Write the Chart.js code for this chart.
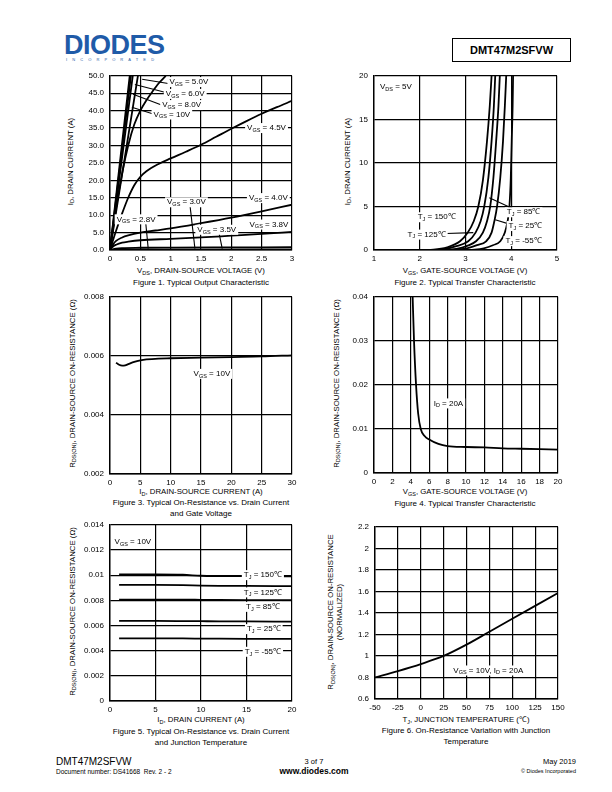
<!DOCTYPE html>
<html lang="en">
<head>
<meta charset="UTF-8" />
<title>DMT47M2SFVW - Typical Characteristics</title>
<script src="https://cdn.jsdelivr.net/npm/chart.js@4"></script>
<style>
  body {
    margin: 0;
    width: 612px;
    height: 792px;
    position: relative;
    overflow: hidden;
    background: #fff;
    color: #000;
    font-family: "Liberation Sans", Arial, sans-serif;
  }
  canvas { position: absolute; }
  .t { position: absolute; white-space: nowrap; text-align: center; }
  .axt { font-size: 7.8px; width: 300px; line-height: 9px; }
  .cap { font-size: 8px; width: 300px; line-height: 11px; }
  .rot { transform: rotate(-90deg); }
  sub { font-size: 5.5px; vertical-align: -1.5px; line-height: 0; }
  .logo {
    position: absolute; left: 64px; top: 30px;
    font-size: 27px; font-weight: bold; color: #1f5ba8; letter-spacing: -0.5px;
  }
  .inc {
    position: absolute; left: 66px; top: 57px;
    font-size: 4px; letter-spacing: 5.1px; color: #1f5ba8;
  }
  .pn {
    position: absolute; left: 452px; top: 38px; width: 117px; height: 22px;
    border: 1.2px solid #000; font-weight: bold; font-size: 11px;
    line-height: 22px; text-align: center;
  }
</style>
</head>
<body>
<div class="logo">DIODES</div>
<div class="inc">INCORPORATED</div>
<div class="pn">DMT47M2SFVW</div>

<!-- axis titles & captions -->
<div class="t axt" style="left:51px;top:266px">V<sub>DS</sub>, DRAIN-SOURCE VOLTAGE (V)</div>
<div class="t cap" style="left:51px;top:277px">Figure 1. Typical Output Characteristic</div>
<div class="t axt rot" style="left:-80px;top:157px">I<sub>D</sub>, DRAIN CURRENT (A)</div>

<div class="t axt" style="left:315px;top:266px">V<sub>GS</sub>, GATE-SOURCE VOLTAGE (V)</div>
<div class="t cap" style="left:315px;top:277px">Figure 2. Typical Transfer Characteristic</div>
<div class="t axt rot" style="left:197px;top:157px">I<sub>D</sub>, DRAIN CURRENT (A)</div>

<div class="t axt" style="left:51px;top:487px">I<sub>D</sub>, DRAIN-SOURCE CURRENT (A)</div>
<div class="t cap" style="left:51px;top:497px">Figure 3. Typical On-Resistance vs. Drain Current<br>and Gate Voltage</div>
<div class="t axt rot" style="left:-78px;top:379px">R<sub>DS(ON)</sub>, DRAIN-SOURCE ON-RESISTANCE (Ω)</div>

<div class="t axt" style="left:315px;top:487px">V<sub>GS</sub>, GATE-SOURCE VOLTAGE (V)</div>
<div class="t cap" style="left:315px;top:498px">Figure 4. Typical Transfer Characteristic</div>
<div class="t axt rot" style="left:186px;top:379px">R<sub>DS(ON)</sub>, DRAIN-SOURCE ON-RESISTANCE (Ω)</div>

<div class="t axt" style="left:51px;top:715px">I<sub>D</sub>, DRAIN CURRENT (A)</div>
<div class="t cap" style="left:51px;top:726px">Figure 5. Typical On-Resistance vs. Drain Current<br>and Junction Temperature</div>
<div class="t axt rot" style="left:-78px;top:607px">R<sub>DS(ON)</sub>, DRAIN-SOURCE ON-RESISTANCE (Ω)</div>

<div class="t axt" style="left:316px;top:715px">T<sub>J</sub>, JUNCTION TEMPERATURE (℃)</div>
<div class="t cap" style="left:316px;top:725px">Figure 6. On-Resistance Variation with Junction<br>Temperature</div>
<div class="t axt rot" style="left:185px;top:603px">R<sub>DS(ON)</sub>, DRAIN-SOURCE ON-RESISTANCE<br>(NORMALIZED)</div>

<!-- footer -->
<div class="t" style="left:56px;top:756px;font-size:10px;text-align:left">DMT47M2SFVW</div>
<div class="t" style="left:56px;top:768px;font-size:6.5px;text-align:left">Document number: DS41668&nbsp; Rev. 2 - 2</div>
<div class="t" style="left:264px;top:757px;width:100px;font-size:7.5px">3 of 7</div>
<div class="t" style="left:264px;top:766px;width:100px;font-size:8.5px;font-weight:bold">www.diodes.com</div>
<div class="t" style="left:476px;top:757px;width:100px;font-size:7.5px;text-align:right">May 2019</div>
<div class="t" style="left:476px;top:768px;width:100px;font-size:5.5px;text-align:right">© Diodes Incorporated</div>

<script>
// ---------- Figure 1: output characteristic, [VDS, ID] ----------
const fig1XTicks = [0, 0.5, 1, 1.5, 2, 2.5, 3];
const fig1XLabels = ["0", "0.5", "1", "1.5", "2", "2.5", "3"];
const fig1YTicks = [0, 5, 10, 15, 20, 25, 30, 35, 40, 45, 50];
const fig1YLabels = ["0.0", "5.0", "10.0", "15.0", "20.0", "25.0", "30.0", "35.0", "40.0", "45.0", "50.0"];
const fig1Vgs10 = [[0, 0], [0.325, 50]];
const fig1Vgs8 = [[0, 0], [0.345, 50]];
const fig1Vgs6 = [[0, 0], [0.375, 50]];
const fig1Vgs5 = [[0, 0], [0.46, 50]];
const fig1Unlabeled = [[0, 0], [0.1, 12], [0.2, 22], [0.3, 30], [0.4, 36], [0.5, 40], [0.6, 43], [0.7, 45.5], [0.8, 47.8], [0.92, 50]];
const fig1Vgs45 = [[0, 0], [0.1, 5.5], [0.2, 10.5], [0.3, 15], [0.4, 18.6], [0.5, 21], [0.6, 22.6], [0.8, 24.7], [1, 26.3], [1.25, 28.2], [1.5, 30.2], [1.75, 32.5], [2, 34.8], [2.25, 37], [2.5, 39.1], [2.75, 41], [3, 42.8]];
const fig1Vgs40 = [[0, 0], [0.05, 1.6], [0.1, 2.6], [0.2, 3.6], [0.3, 4.2], [0.5, 5], [0.75, 5.6], [1, 6.2], [1.5, 7.7], [2, 9.3], [2.5, 11.1], [3, 13]];
const fig1Vgs38 = [[0, 0], [0.05, 1], [0.1, 1.5], [0.2, 2.1], [0.3, 2.4], [0.5, 2.8], [1, 3.2], [1.5, 3.6], [2, 4.1], [2.5, 4.6], [3, 5.2]];
const fig1Vgs35 = [[0, 0], [0.1, 0.4], [0.2, 0.55], [0.5, 0.65], [1, 0.7], [2, 0.75], [3, 0.8]];
const fig1Vgs30 = [[0, 0], [0.2, 0.1], [3, 0.15]];
const fig1Vgs28 = [[0, 0], [3, 0.05]];

// ---------- Figure 2: transfer characteristic, [VGS, ID] ----------
const fig2XTicks = [1, 2, 3, 4, 5];
const fig2XLabels = ["1", "2", "3", "4", "5"];
const fig2YTicks = [0, 5, 10, 15, 20];
const fig2YLabels = ["0", "5", "10", "15", "20"];
const fig2Tj150 = [[1.85, 0], [2.3, 0.05], [2.6, 0.3], [2.88, 1], [3.05, 2], [3.18, 3.3], [3.28, 5], [3.38, 8], [3.47, 12.5], [3.53, 16.5], [3.57, 20]];
const fig2Tj125 = [[2.1, 0], [2.5, 0.08], [2.8, 0.45], [3.06, 1], [3.22, 2], [3.33, 3.3], [3.41, 5], [3.5, 8.3], [3.57, 12.5], [3.62, 16.5], [3.65, 20]];
const fig2Tj85 = [[2.45, 0], [2.8, 0.12], [3.05, 0.5], [3.23, 1], [3.38, 2], [3.47, 3.3], [3.54, 5], [3.61, 8.3], [3.67, 12.5], [3.72, 16.5], [3.75, 20]];
const fig2Tj25 = [[2.65, 0], [3.0, 0.15], [3.25, 0.55], [3.45, 1], [3.57, 2], [3.63, 3.3], [3.69, 5], [3.76, 8.3], [3.82, 12.5], [3.86, 16.5], [3.89, 20]];
const fig2TjM55 = [[3.1, 0], [3.4, 0.2], [3.6, 0.55], [3.76, 1], [3.86, 2], [3.92, 3.3], [3.96, 5], [3.99, 8.3], [4.01, 12.5], [4.03, 16.5], [4.04, 20]];

// ---------- Figure 3: RDS(on) vs ID at VGS = 10V ----------
const fig3XTicks = [0, 5, 10, 15, 20, 25, 30];
const fig3XLabels = ["0", "5", "10", "15", "20", "25", "30"];
const fig3YTicks = [0.002, 0.004, 0.006, 0.008];
const fig3YLabels = ["0.002", "0.004", "0.006", "0.008"];
const fig3Id = [1, 1.5, 2, 2.5, 3, 4, 5, 6, 8, 10, 15, 20, 25, 30];
const fig3Rds = [0.00577, 0.0057, 0.00567, 0.00568, 0.00572, 0.0058, 0.00585, 0.00588, 0.00591, 0.00592, 0.00594, 0.00596, 0.00598, 0.00602];

// ---------- Figure 4: RDS(on) vs VGS at ID = 20A ----------
const fig4XTicks = [0, 2, 4, 6, 8, 10, 12, 14, 16, 18, 20];
const fig4XLabels = ["0", "2", "4", "6", "8", "10", "12", "14", "16", "18", "20"];
const fig4YTicks = [0, 0.01, 0.02, 0.03, 0.04];
const fig4YLabels = ["0", "0.01", "0.02", "0.03", "0.04"];
const fig4Vgs = [4.2, 4.35, 4.57, 4.8, 5.08, 5.5, 6, 7, 8, 10, 12, 14, 16, 18, 20];
const fig4Rds = [0.04, 0.03, 0.02, 0.0135, 0.01, 0.0084, 0.0076, 0.0066, 0.0061, 0.0059, 0.0058, 0.0056, 0.0055, 0.0054, 0.0053];

// ---------- Figure 5: RDS(on) vs ID at several TJ ----------
const fig5XTicks = [0, 5, 10, 15, 20];
const fig5XLabels = ["0", "5", "10", "15", "20"];
const fig5YTicks = [0, 0.002, 0.004, 0.006, 0.008, 0.01, 0.012, 0.014];
const fig5YLabels = ["0", "0.002", "0.004", "0.006", "0.008", "0.01", "0.012", "0.014"];
const fig5Id = [1, 5, 8, 10, 12, 15, 20];
const fig5Tj150 = [0.01005, 0.01005, 0.01003, 0.00995, 0.00993, 0.00992, 0.00991];
const fig5Tj125 = [0.00923, 0.00922, 0.0092, 0.00917, 0.00915, 0.00914, 0.00913];
const fig5Tj85 = [0.00806, 0.00806, 0.00805, 0.00804, 0.00803, 0.00802, 0.00801];
const fig5Tj25 = [0.00636, 0.00636, 0.00635, 0.00634, 0.00633, 0.00632, 0.00631];
const fig5TjM55 = [0.00498, 0.00498, 0.00497, 0.00496, 0.00495, 0.00494, 0.00493];

// ---------- Figure 6: normalized RDS(on) vs TJ ----------
const fig6XTicks = [-50, -25, 0, 25, 50, 75, 100, 125, 150];
const fig6XLabels = ["-50", "-25", "0", "25", "50", "75", "100", "125", "150"];
const fig6YTicks = [0.6, 0.8, 1, 1.2, 1.4, 1.6, 1.8, 2, 2.2];
const fig6YLabels = ["0.6", "0.8", "1", "1.2", "1.4", "1.6", "1.8", "2", "2.2"];
const fig6Tj = [-50, -25, 0, 25, 50, 75, 100, 125, 150];
const fig6Rnorm = [0.8, 0.86, 0.925, 1.0, 1.105, 1.225, 1.345, 1.465, 1.585];

// rich text helpers: [text, isSubscript]
const VGS = (rest) => [["V"], ["GS", 1], [rest]];
const VDS = (rest) => [["V"], ["DS", 1], [rest]];
const TJ = (rest) => [["T"], ["J", 1], [rest]];
const ID = (rest) => [["I"], ["D", 1], [rest]];

const FONT = '"Liberation Sans", Arial, sans-serif';

function drawRich(ctx, px, py, parts, align) {
  const main = "8px " + FONT, small = "5.5px " + FONT;
  let w = 0;
  const widths = parts.map((p) => {
    ctx.font = p[1] ? small : main;
    const m = ctx.measureText(p[0]).width;
    w += m;
    return m;
  });
  let x0 = align === "left" ? px : px - w / 2;
  ctx.fillStyle = "#fff";
  ctx.fillRect(x0 - 2, py - 5, w + 4, 10);
  ctx.fillStyle = "#000";
  ctx.textBaseline = "middle";
  ctx.textAlign = "left";
  parts.forEach((p, i) => {
    ctx.font = p[1] ? small : main;
    ctx.fillText(p[0], x0, py + (p[1] ? 2.2 : 0));
    x0 += widths[i];
  });
}

// arrows and labels placed in data coordinates
const notesPlugin = {
  id: "notes",
  afterDatasetsDraw(chart, args, opts) {
    const { ctx, scales: { x, y } } = chart;
    ctx.save();
    ctx.strokeStyle = "#000";
    ctx.lineWidth = 1.1;
    (opts.arrows || []).forEach((a) => {
      ctx.beginPath();
      ctx.moveTo(x.getPixelForValue(a[0]), y.getPixelForValue(a[1]));
      ctx.lineTo(x.getPixelForValue(a[2]), y.getPixelForValue(a[3]));
      ctx.stroke();
    });
    (opts.labels || []).forEach((l) =>
      drawRich(ctx, x.getPixelForValue(l.x), y.getPixelForValue(l.y), l.parts, l.align)
    );
    ctx.restore();
  },
};

const YW = 40, XH = 16, PADT = 8, PADR = 12;

function axis(ticks, labels, isX) {
  return {
    type: "linear",
    min: ticks[0],
    max: ticks[ticks.length - 1],
    afterBuildTicks: (s) => { s.ticks = ticks.map((v) => ({ value: v })); },
    afterFit: (s) => { if (isX) s.height = XH; else s.width = YW; },
    ticks: {
      callback: (v, i) => labels[i],
      font: { family: FONT, size: 8 },
      color: "#000",
      padding: isX ? 4 : 6,
      maxRotation: 0,
      autoSkip: false,
    },
    grid: { color: "#000", lineWidth: 1.2, drawTicks: false },
    border: { color: "#000", width: 1.4 },
  };
}

function makeChart(box, xt, xl, yt, yl, series, notes) {
  const c = document.createElement("canvas");
  c.width = box.w + YW + PADR;
  c.height = box.h + PADT + XH;
  c.style.left = box.left - YW + "px";
  c.style.top = box.top - PADT + "px";
  document.body.appendChild(c);
  return new Chart(c, {
    type: "line",
    data: {
      datasets: series.map((pts) => ({
        data: pts.map((p) => ({ x: p[0], y: p[1] })),
        borderColor: "#000",
        borderWidth: 1.8,
        pointRadius: 0,
        fill: false,
        cubicInterpolationMode: "monotone",
      })),
    },
    options: {
      responsive: false,
      animation: false,
      layout: { padding: { top: PADT, right: PADR, left: 0, bottom: 0 } },
      scales: { x: axis(xt, xl, true), y: axis(yt, yl, false) },
      plugins: { legend: { display: false }, tooltip: { enabled: false }, notes },
    },
    plugins: [notesPlugin],
  });
}

const zip = (xs, ys) => xs.map((v, i) => [v, ys[i]]);

// Figure 1
makeChart({ left: 110, top: 73, w: 182, h: 177 }, fig1XTicks, fig1XLabels, fig1YTicks, fig1YLabels,
  [fig1Vgs10, fig1Vgs8, fig1Vgs6, fig1Vgs5, fig1Unlabeled, fig1Vgs45, fig1Vgs40, fig1Vgs38, fig1Vgs35, fig1Vgs30, fig1Vgs28],
  {
    arrows: [
      [0.96, 47.8, 0.53, 49.0], [0.92, 45.2, 0.41, 47.5], [0.85, 41.6, 0.38, 44.7], [0.74, 38.9, 0.36, 41],
      [1.8, 4.6, 1.85, 0.4], [1.32, 12.6, 1.4, 0.4], [0.59, 7.6, 0.63, 0.4],
    ],
    labels: [
      { x: 1.3, y: 48.2, parts: VGS(" = 5.0V") },
      { x: 1.24, y: 44.8, parts: VGS(" = 6.0V") },
      { x: 1.18, y: 41.6, parts: VGS(" = 8.0V") },
      { x: 1.02, y: 38.9, parts: VGS(" = 10V") },
      { x: 2.58, y: 35, parts: VGS(" = 4.5V") },
      { x: 2.61, y: 14.9, parts: VGS(" = 4.0V") },
      { x: 2.62, y: 7.3, parts: VGS(" = 3.8V") },
      { x: 1.76, y: 5.8, parts: VGS(" = 3.5V") },
      { x: 1.26, y: 13.7, parts: VGS(" = 3.0V") },
      { x: 0.43, y: 8.8, parts: VGS(" = 2.8V") },
    ],
  });

// Figure 2
makeChart({ left: 374, top: 73, w: 183, h: 177 }, fig2XTicks, fig2XLabels, fig2YTicks, fig2YLabels,
  [fig2Tj150, fig2Tj125, fig2Tj85, fig2Tj25, fig2TjM55],
  {
    arrows: [[2.58, 1.9, 3.17, 2.0], [4.05, 4.7, 3.52, 6.0], [3.98, 2.94, 3.65, 3.47]],
    labels: [
      { x: 1.13, y: 18.7, parts: VDS(" = 5V"), align: "left" },
      { x: 2.37, y: 3.76, parts: TJ(" = 150℃") },
      { x: 2.15, y: 1.77, parts: TJ(" = 125℃") },
      { x: 4.27, y: 4.33, parts: TJ(" = 85℃") },
      { x: 4.31, y: 2.75, parts: TJ(" = 25℃") },
      { x: 4.27, y: 1.02, parts: TJ(" = -55℃") },
    ],
  });

// Figure 3
makeChart({ left: 110, top: 294, w: 182, h: 180 }, fig3XTicks, fig3XLabels, fig3YTicks, fig3YLabels,
  [zip(fig3Id, fig3Rds)],
  { labels: [{ x: 16.8, y: 0.00539, parts: VGS(" = 10V") }] });

// Figure 4
makeChart({ left: 374, top: 294, w: 184, h: 179 }, fig4XTicks, fig4XLabels, fig4YTicks, fig4YLabels,
  [zip(fig4Vgs, fig4Rds)],
  { labels: [{ x: 8.09, y: 0.0158, parts: ID(" = 20A") }] });

// Figure 5
makeChart({ left: 110, top: 522, w: 182, h: 179 }, fig5XTicks, fig5XLabels, fig5YTicks, fig5YLabels,
  [zip(fig5Id, fig5Tj150), zip(fig5Id, fig5Tj125), zip(fig5Id, fig5Tj85), zip(fig5Id, fig5Tj25), zip(fig5Id, fig5TjM55)],
  {
    labels: [
      { x: 0.5, y: 0.01265, parts: VGS(" = 10V"), align: "left" },
      { x: 16.8, y: 0.01, parts: TJ(" = 150℃") },
      { x: 16.8, y: 0.00863, parts: TJ(" = 125℃") },
      { x: 16.8, y: 0.00748, parts: TJ(" = 85℃") },
      { x: 16.9, y: 0.00571, parts: TJ(" = 25℃") },
      { x: 16.8, y: 0.00391, parts: TJ(" = -55℃") },
    ],
  });

// Figure 6
makeChart({ left: 375, top: 524, w: 183, h: 175 }, fig6XTicks, fig6XLabels, fig6YTicks, fig6YLabels,
  [zip(fig6Tj, fig6Rnorm)],
  { labels: [{ x: 73.8, y: 0.865, parts: [["V"], ["GS", 1], [" = 10V, I"], ["D", 1], [" = 20A"]] }] });
</script>
</body>
</html>
